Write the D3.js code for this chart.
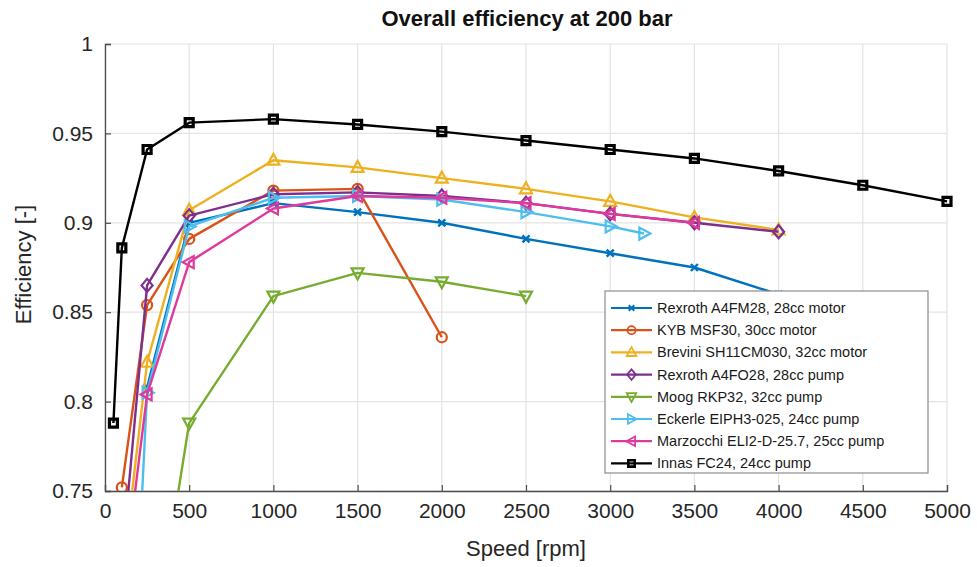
<!DOCTYPE html>
<html>
<head>
<meta charset="utf-8">
<script src="https://cdn.jsdelivr.net/npm/d3@7"></script>
<style>
  html, body { margin: 0; padding: 0; background: #fff; }
  svg { display: block; font-family: "Liberation Sans", Arial, Helvetica, sans-serif; }
</style>
</head>
<body>
<svg id="chart" width="977" height="567"></svg>
<script>
// Overall efficiency at 200 bar, per unit, vs. shaft speed
const titleText = "Overall efficiency at 200 bar";
const xLabel = "Speed [rpm]";
const yLabel = "Efficiency [-]";

const xTicks = [0, 500, 1000, 1500, 2000, 2500, 3000, 3500, 4000, 4500, 5000];
const yTicks = [0.75, 0.8, 0.85, 0.9, 0.95, 1];
const yTickLabels = ["0.75", "0.8", "0.85", "0.9", "0.95", "1"];

const seriesNames = [
  "Rexroth A4FM28, 28cc motor",
  "KYB MSF30, 30cc motor",
  "Brevini SH11CM030, 32cc motor",
  "Rexroth A4FO28, 28cc pump",
  "Moog RKP32, 32cc pump",
  "Eckerle EIPH3-025, 24cc pump",
  "Marzocchi ELI2-D-25.7, 25cc pump",
  "Innas FC24, 24cc pump"
];

const rexrothMotorSpeed = [250, 500, 1000, 1500, 2000, 2500, 3000, 3500, 4000];
const rexrothMotorEff   = [0.808, 0.900, 0.911, 0.906, 0.900, 0.891, 0.883, 0.875, 0.860];

const kybSpeed = [100, 250, 500, 1000, 1500, 2000];
const kybEff   = [0.752, 0.854, 0.891, 0.918, 0.919, 0.836];

const breviniSpeed = [100, 250, 500, 1000, 1500, 2000, 2500, 3000, 3500, 4000];
const breviniEff   = [0.700, 0.822, 0.907, 0.935, 0.931, 0.925, 0.919, 0.912, 0.903, 0.896];

const rexrothPumpSpeed = [100, 250, 500, 1000, 1500, 2000, 2500, 3000, 3500, 4000];
const rexrothPumpEff   = [0.710, 0.865, 0.904, 0.916, 0.917, 0.915, 0.911, 0.905, 0.900, 0.895];

const moogSpeed = [250, 500, 1000, 1500, 2000, 2500];
const moogEff   = [0.640, 0.788, 0.859, 0.872, 0.867, 0.859];

const eckerleSpeed = [200, 250, 500, 1000, 1500, 2000, 2500, 3000, 3200];
const eckerleEff   = [0.710, 0.805, 0.898, 0.914, 0.915, 0.913, 0.906, 0.898, 0.894];

const marzocchiSpeed = [100, 250, 500, 1000, 1500, 2000, 2500, 3000, 3500];
const marzocchiEff   = [0.690, 0.804, 0.878, 0.908, 0.915, 0.914, 0.911, 0.905, 0.900];

const innasSpeed = [50, 100, 250, 500, 1000, 1500, 2000, 2500, 3000, 3500, 4000, 4500, 5000];
const innasEff   = [0.788, 0.886, 0.941, 0.956, 0.958, 0.955, 0.951, 0.946, 0.941, 0.936, 0.929, 0.921, 0.912];

const seriesColors = ["#0072BD", "#D95319", "#EDB120", "#7E2F8E", "#77AC30", "#4DBEEE", "#DE3A9E", "#000000"];
const seriesMarkers = ["x", "circle", "triUp", "diamond", "triDown", "triRight", "triLeft", "square"];

const seriesData = [
  [rexrothMotorSpeed, rexrothMotorEff],
  [kybSpeed, kybEff],
  [breviniSpeed, breviniEff],
  [rexrothPumpSpeed, rexrothPumpEff],
  [moogSpeed, moogEff],
  [eckerleSpeed, eckerleEff],
  [marzocchiSpeed, marzocchiEff],
  [innasSpeed, innasEff]
].map(([s, e], i) => ({
  name: seriesNames[i],
  color: seriesColors[i],
  marker: seriesMarkers[i],
  points: s.map((v, j) => ({ x: v, y: e[j] }))
}));

// Layout
const plot = { left: 105, right: 947, top: 44, bottom: 491 };
const svg = d3.select("#chart");

const x = d3.scaleLinear().domain([0, 5000]).range([plot.left, plot.right]);
const y = d3.scaleLinear().domain([0.75, 1]).range([plot.bottom, plot.top]);

// Grid
const grid = svg.append("g").attr("class", "grid");
grid.selectAll("line.gx").data(xTicks).join("line")
  .attr("x1", d => x(d)).attr("x2", d => x(d))
  .attr("y1", plot.top).attr("y2", plot.bottom)
  .attr("stroke", "#e3e3e3").attr("stroke-width", 1.2);
grid.selectAll("line.gy").data(yTicks).join("line")
  .attr("x1", plot.left).attr("x2", plot.right)
  .attr("y1", d => y(d)).attr("y2", d => y(d))
  .attr("stroke", "#e3e3e3").attr("stroke-width", 1.2);

// Axes (ticks point inward)
const xAxis = d3.axisBottom(x).tickValues(xTicks).tickSize(-6).tickPadding(12)
  .tickFormat(d3.format("d"));
const yAxis = d3.axisLeft(y).tickValues(yTicks).tickSize(-6).tickPadding(12)
  .tickFormat((d, i) => yTickLabels[i]);

const gx = svg.append("g").attr("transform", `translate(0,${plot.bottom})`).call(xAxis);
const gy = svg.append("g").attr("transform", `translate(${plot.left},0)`).call(yAxis);
[gx, gy].forEach(g => {
  g.select(".domain").attr("stroke", "#4d4d4d").attr("stroke-width", 1.3);
  g.selectAll(".tick line").attr("stroke", "#4d4d4d").attr("stroke-width", 1.2);
  g.selectAll(".tick text").attr("fill", "#262626")
    .style("font-size", "21px").style("font-family", "'Liberation Sans', Arial, sans-serif");
});
gx.selectAll(".tick text").attr("dy", "0.71em");

// Clip region for data
svg.append("clipPath").attr("id", "plotClip")
  .append("rect")
  .attr("x", plot.left).attr("y", plot.top - 8)
  .attr("width", plot.right - plot.left + 8)
  .attr("height", plot.bottom - plot.top + 8);

const dataLayer = svg.append("g").attr("clip-path", "url(#plotClip)");

const line = d3.line().x(d => x(d.x)).y(d => y(d.y));

function markerPath(type) {
  switch (type) {
    case "square":   return "M-4,-4H4V4H-4Z";
    case "circle":   return d3.symbol(d3.symbolCircle, 80)();
    case "diamond":  return "M0,-6.5L5.5,0L0,6.5L-5.5,0Z";
    case "triUp":    return "M0,-6.5L6,4.5L-6,4.5Z";
    case "triDown":  return "M0,6.5L6,-4.5L-6,-4.5Z";
    case "triRight": return "M6.5,0L-4.5,-6L-4.5,6Z";
    case "triLeft":  return "M-6.5,0L4.5,-6L4.5,6Z";
    case "x":        return "M-3.5,-3.5L3.5,3.5M-3.5,3.5L3.5,-3.5";
  }
}

function drawMarker(g, type, color) {
  g.append("path")
    .attr("d", markerPath(type))
    .attr("fill", "none")
    .attr("stroke", color)
    .attr("stroke-width", type === "square" ? 3.2 : (type === "x" ? 2.4 : 2.2));
}

seriesData.forEach(s => {
  const g = dataLayer.append("g");
  g.append("path").datum(s.points)
    .attr("d", line)
    .attr("fill", "none")
    .attr("stroke", s.color)
    .attr("stroke-width", 2.4)
    .attr("stroke-linejoin", "round");
  s.points.forEach(p => {
    const m = g.append("g").attr("transform", `translate(${x(p.x)},${y(p.y)})`);
    drawMarker(m, s.marker, s.color);
  });
});

// Title and axis labels
svg.append("text")
  .attr("x", 527).attr("y", 26)
  .attr("text-anchor", "middle")
  .style("font-size", "22px").style("font-weight", "bold")
  .attr("fill", "#111")
  .text(titleText);

svg.append("text")
  .attr("x", (plot.left + plot.right) / 2).attr("y", 556)
  .attr("text-anchor", "middle")
  .style("font-size", "22px")
  .attr("fill", "#262626")
  .text(xLabel);

svg.append("text")
  .attr("transform", `translate(31,${(plot.top + plot.bottom) / 2 - 3}) rotate(-90)`)
  .attr("text-anchor", "middle")
  .style("font-size", "22px")
  .attr("fill", "#262626")
  .text(yLabel);

// Legend
const legend = { x: 605, y: 291, w: 323, h: 182, row: 22.2 };
const lg = svg.append("g");
lg.append("rect")
  .attr("x", legend.x).attr("y", legend.y)
  .attr("width", legend.w).attr("height", legend.h)
  .attr("fill", "#fff").attr("stroke", "#8c8c8c").attr("stroke-width", 1.2);

seriesData.forEach((s, i) => {
  const cy = legend.y + 17 + i * legend.row;
  const item = lg.append("g");
  item.append("line")
    .attr("x1", legend.x + 6).attr("x2", legend.x + 47)
    .attr("y1", cy).attr("y2", cy)
    .attr("stroke", s.color).attr("stroke-width", 2.2);
  const m = item.append("g").attr("transform", `translate(${legend.x + 26.5},${cy}) scale(0.8)`);
  drawMarker(m, s.marker, s.color);
  item.append("text")
    .attr("x", legend.x + 52).attr("y", cy)
    .attr("dy", "0.35em")
    .style("font-size", "14.5px")
    .attr("fill", "#1a1a1a")
    .text(s.name);
});
</script>
</body>
</html>
